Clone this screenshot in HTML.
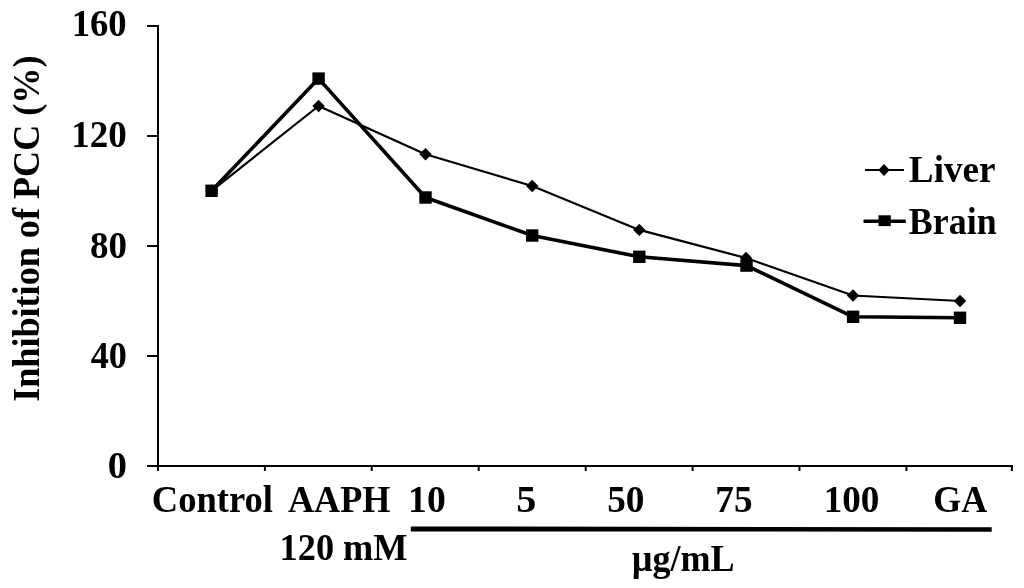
<!DOCTYPE html>
<html><head><meta charset="utf-8"><style>
html,body{margin:0;padding:0;background:#fff;}
svg{display:block;}
text{font-family:"Liberation Serif", "Times New Roman", serif;font-weight:bold;fill:#000;}
</style></head><body>
<svg width="1024" height="588" viewBox="0 0 1024 588">
<rect width="1024" height="588" fill="#fff"/>
<g stroke="#000" stroke-width="2" fill="none" stroke-linecap="square">
<path d="M158 26 V470" />
<path d="M148 26 H158" />
<path d="M148 136 H158" />
<path d="M148 246 H158" />
<path d="M148 356 H158" />
<path d="M148 466 H158" />
<path d="M148 466 H1012" />
<path d="M158.00 466 V470" />
<path d="M264.90 466 V470" />
<path d="M371.70 466 V470" />
<path d="M478.70 466 V470" />
<path d="M585.70 466 V470" />
<path d="M692.60 466 V470" />
<path d="M799.50 466 V470" />
<path d="M906.40 466 V470" />
<path d="M1011.90 466 V470" />
</g>
<polyline points="211.6,190.8 318.6,106 425.5,154.2 532.2,186 639.3,229.9 746,258 853,295.5 960,301" fill="none" stroke="#000" stroke-width="2.2" stroke-linejoin="round"/>
<path d="M211.60 184.60 L217.80 190.80 L211.60 197.00 L205.40 190.80 Z" fill="#000"/>
<path d="M318.60 99.80 L324.80 106.00 L318.60 112.20 L312.40 106.00 Z" fill="#000"/>
<path d="M425.50 148.00 L431.70 154.20 L425.50 160.40 L419.30 154.20 Z" fill="#000"/>
<path d="M532.20 179.80 L538.40 186.00 L532.20 192.20 L526.00 186.00 Z" fill="#000"/>
<path d="M639.30 223.70 L645.50 229.90 L639.30 236.10 L633.10 229.90 Z" fill="#000"/>
<path d="M746.00 251.80 L752.20 258.00 L746.00 264.20 L739.80 258.00 Z" fill="#000"/>
<path d="M853.00 289.30 L859.20 295.50 L853.00 301.70 L846.80 295.50 Z" fill="#000"/>
<path d="M960.00 294.80 L966.20 301.00 L960.00 307.20 L953.80 301.00 Z" fill="#000"/>
<polyline points="211.6,190.8 318.6,78.6 425.5,197.5 532.2,235.5 639.3,256.8 746.5,265.6 853.1,316.8 960,317.8" fill="none" stroke="#000" stroke-width="3.6" stroke-linejoin="round"/>
<rect x="205.40" y="184.60" width="12.4" height="12.4" fill="#000"/>
<rect x="312.40" y="72.40" width="12.4" height="12.4" fill="#000"/>
<rect x="419.30" y="191.30" width="12.4" height="12.4" fill="#000"/>
<rect x="526.00" y="229.30" width="12.4" height="12.4" fill="#000"/>
<rect x="633.10" y="250.60" width="12.4" height="12.4" fill="#000"/>
<rect x="740.30" y="259.40" width="12.4" height="12.4" fill="#000"/>
<rect x="846.90" y="310.60" width="12.4" height="12.4" fill="#000"/>
<rect x="953.80" y="311.60" width="12.4" height="12.4" fill="#000"/>
<path d="M865 170 H904" stroke="#000" stroke-width="2.2"/>
<path d="M884 164 L889.7 170 L884 176 L878.3 170 Z" fill="#000"/>
<path d="M863.5 221.3 H905.8" stroke="#000" stroke-width="3.6"/>
<rect x="878.5" y="215.3" width="12.3" height="10.8" fill="#000"/>
<path d="M410.8 526.4 L991.7 527.2 L991.7 531.7 L410.8 531.5 Z" fill="#000"/>
<text x="71.67" y="36.32" font-size="38" textLength="55.01" lengthAdjust="spacingAndGlyphs">160</text>
<text x="71.34" y="146.87" font-size="38" textLength="55.55" lengthAdjust="spacingAndGlyphs">120</text>
<text x="89.90" y="257.52" font-size="38" textLength="36.99" lengthAdjust="spacingAndGlyphs">80</text>
<text x="90.65" y="367.52" font-size="38" textLength="36.21" lengthAdjust="spacingAndGlyphs">40</text>
<text x="107.76" y="478.02" font-size="38" textLength="19.18" lengthAdjust="spacingAndGlyphs">0</text>
<text x="151.77" y="511.83" font-size="37.5" textLength="121.17" lengthAdjust="spacingAndGlyphs">Control</text>
<text x="287.94" y="511.70" font-size="37.5" textLength="102.53" lengthAdjust="spacingAndGlyphs">AAPH</text>
<text x="408.09" y="511.62" font-size="37.5" textLength="37.62" lengthAdjust="spacingAndGlyphs">10</text>
<text x="516.29" y="511.62" font-size="37.5" textLength="20.12" lengthAdjust="spacingAndGlyphs">5</text>
<text x="607.21" y="511.62" font-size="37.5" textLength="37.29" lengthAdjust="spacingAndGlyphs">50</text>
<text x="715.36" y="511.62" font-size="37.5" textLength="37.24" lengthAdjust="spacingAndGlyphs">75</text>
<text x="823.73" y="511.62" font-size="37.5" textLength="55.66" lengthAdjust="spacingAndGlyphs">100</text>
<text x="933.30" y="511.62" font-size="37.5" textLength="53.97" lengthAdjust="spacingAndGlyphs">GA</text>
<text x="279.60" y="559.83" font-size="37.5" textLength="127.97" lengthAdjust="spacingAndGlyphs">120 mM</text>
<text x="631.67" y="571.00" font-size="37.5" textLength="103.03" lengthAdjust="spacingAndGlyphs">µg/mL</text>
<text x="908.85" y="182.22" font-size="37.5" textLength="86.69" lengthAdjust="spacingAndGlyphs">Liver</text>
<text x="908.87" y="233.53" font-size="37.5" textLength="87.75" lengthAdjust="spacingAndGlyphs">Brain</text>
<text transform="rotate(-90)" x="-401.87" y="38.8" font-size="38" textLength="346.40" lengthAdjust="spacingAndGlyphs">Inhibition of PCC (%)</text>
</svg>
</body></html>
